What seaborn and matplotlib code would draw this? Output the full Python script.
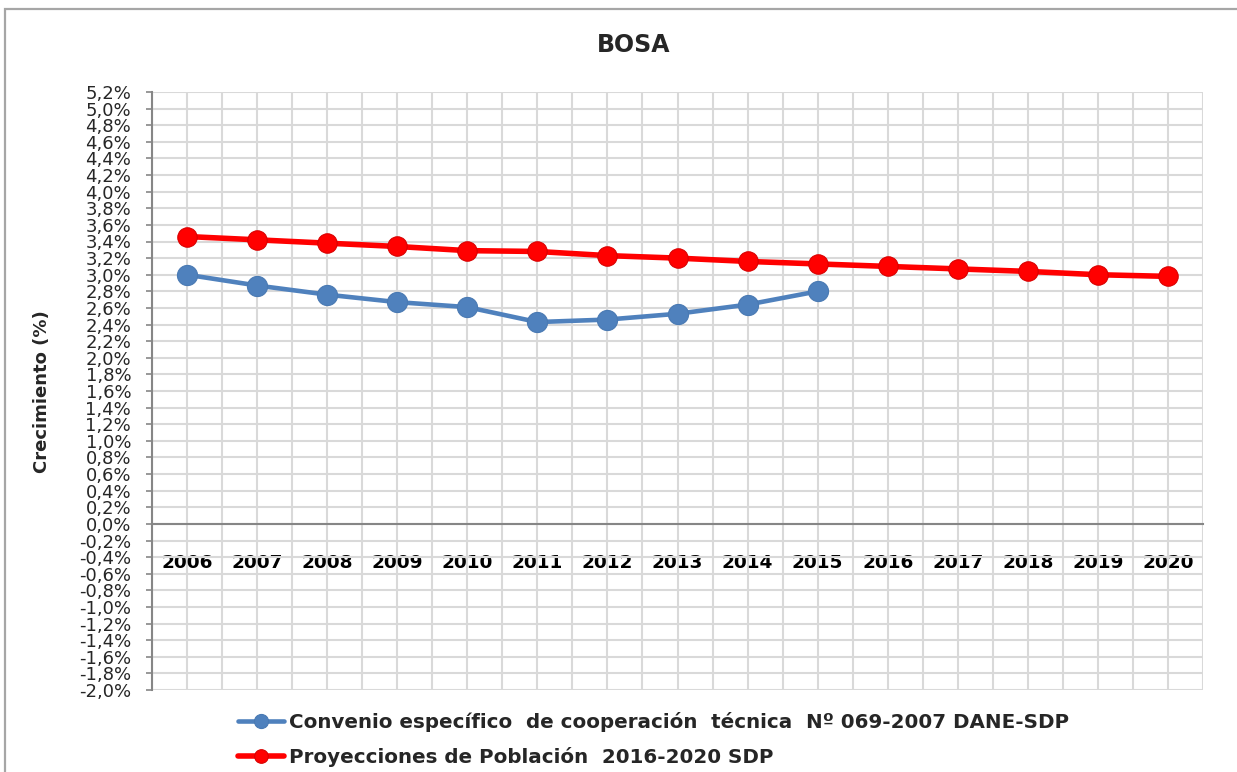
import numpy as np
import pandas as pd
import seaborn as sns
import matplotlib.pyplot as plt
from matplotlib.patches import Rectangle

# Data (growth in %)
years = ["2006", "2007", "2008", "2009", "2010", "2011", "2012", "2013",
         "2014", "2015", "2016", "2017", "2018", "2019", "2020"]
convenio = [3.00, 2.87, 2.76, 2.67, 2.61, 2.43, 2.46, 2.53, 2.64, 2.80]
proyecciones = [3.46, 3.42, 3.38, 3.34, 3.29, 3.28, 3.23, 3.20, 3.16, 3.13,
                3.10, 3.07, 3.04, 3.00, 2.98]
label_conv = "Convenio específico  de cooperación  técnica  Nº 069-2007 DANE-SDP"
label_proy = "Proyecciones de Población  2016-2020 SDP"

sns.set_style("white")
plt.rcParams['font.family'] = ['DejaVu Sans']

fig = plt.figure(figsize=(12.37, 7.72), dpi=100)
ax = fig.add_axes([152 / 1237, 1 - 690 / 772, (1203 - 152) / 1237, (690 - 92) / 772])

# outer chart border
fig.patches.append(Rectangle((5 / 1237, -0.1), 1.2, 1 - 9 / 772 + 0.1, transform=fig.transFigure,
                             fill=False, edgecolor="#a6a6a6", linewidth=1.6))

df_conv = pd.DataFrame({"x": range(len(convenio)), "y": convenio})
df_proy = pd.DataFrame({"x": range(len(proyecciones)), "y": proyecciones})

sns.lineplot(data=df_conv, x="x", y="y", ax=ax, color="#4f81bd", linewidth=3.3,
             marker="o", markersize=14.5, markeredgecolor="#4a7ab3", markeredgewidth=0.8,
             label=label_conv, legend=False, zorder=3)
sns.lineplot(data=df_proy, x="x", y="y", ax=ax, color="#ff0000", linewidth=4.0,
             marker="o", markersize=14, markeredgecolor="#d90000", markeredgewidth=0.8,
             label=label_proy, legend=False, zorder=4)

# axis crosses at 0 (do this before styling ticks, it resets them)
ax.spines["bottom"].set_position(("data", 0))
ax.spines["bottom"].set_color("#868686")
ax.spines["bottom"].set_linewidth(1.5)
ax.spines["bottom"].set_zorder(2.5)
ax.spines["left"].set_color("#868686")
ax.spines["left"].set_linewidth(1.5)
ax.spines["top"].set_visible(False)
ax.spines["right"].set_visible(False)

ax.set_xlim(-0.5, 14.5)
ax.set_ylim(-2.0, 5.2)

yt = np.round(np.arange(-2.0, 5.21, 0.2), 1) + 0.0
ax.set_yticks(yt)
ax.set_yticklabels([f"{v:.1f}%".replace(".", ",").replace("-0,0", "0,0") for v in yt])

ax.set_xticks(range(len(years)))
ax.set_xticklabels(years, fontweight="bold")
ax.set_xticks(np.arange(-0.5, 15, 1), minor=True)

ax.tick_params(axis="x", which="major", length=0, pad=22, labelsize=13.3, labelcolor="black")
ax.tick_params(axis="x", which="minor", length=4, width=1.5, color="#868686", direction="out")
ax.tick_params(axis="y", which="major", length=4, width=1.2, color="#868686", direction="out",
               left=True, pad=11, labelsize=13, labelcolor="#262626")
for lbl in ax.get_xticklabels():
    lbl.set_fontweight("bold")

ax.grid(axis="x", which="both", color="#d9d9d9", linewidth=1.5)
ax.grid(axis="y", which="major", color="#d9d9d9", linewidth=1.5)
ax.set_axisbelow(True)

ax.set_xlabel("")
ax.set_ylabel("")
fig.text(42 / 1237, 1 - 392 / 772, "Crecimiento (%)", rotation=90, ha="center", va="center",
         fontsize=13, fontweight="bold")
fig.text(634 / 1237, 1 - 45 / 772, "BOSA", ha="center", va="center", fontsize=17, fontweight="bold")

handles, labels = ax.get_legend_handles_labels()
fig.legend(handles, labels, loc="upper left", bbox_to_anchor=(238 / 1237, 1 - 712 / 772),
           frameon=False, prop={"size": 14.3, "weight": "bold"}, handlelength=2.3,
           handletextpad=0.25, labelspacing=0.75, borderpad=0, borderaxespad=0, markerscale=0.7)

fig.savefig("out.png", dpi=100)
